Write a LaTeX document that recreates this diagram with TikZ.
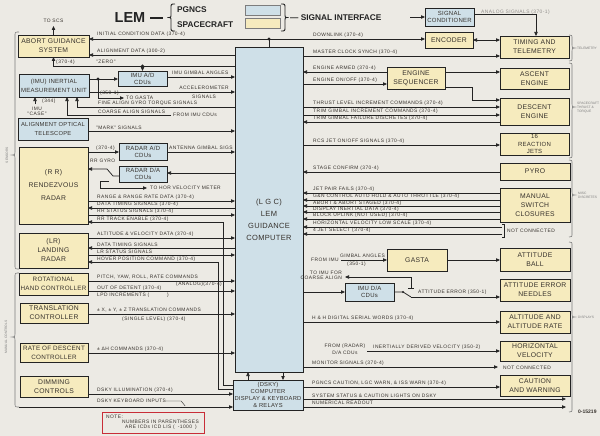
\documentclass[tikz,border=0pt]{standalone}
\usepackage{fontspec}
\setmainfont{Liberation Sans}
\newfontfamily\lblff[LetterSpace=9]{Liberation Sans}
\newfontfamily\bxff[LetterSpace=4]{Liberation Sans}
\usetikzlibrary{arrows.meta}
\definecolor{bg}{RGB}{236,234,228}
\definecolor{bfill}{RGB}{207,224,232}
\definecolor{yfill}{RGB}{246,235,190}
\definecolor{ln}{RGB}{35,35,35}
\definecolor{txt}{RGB}{55,50,45}
\definecolor{brc}{RGB}{125,125,125}
\definecolor{nred}{RGB}{200,45,55}
\newcommand\lblf{\lblff\fontsize{4.9}{5.5}\selectfont}
\newcommand\bxs[2]{\bxff\fontsize{#1}{#2}\selectfont}
\newcommand\mkbox[7]{\node[#1, minimum width={#5-#3}, minimum height={#6-#4}] (#2) at ({(#3+#5)/2},{(#4+#6)/2}) {#7};}
\newcommand\rbr[4]{\draw[brace] ({#1-3},{#2}) .. controls ({#1},{#2}) .. ({#1},{#2+4}) -- ({#1},{#3-3}) .. controls ({#1},{#3}) .. ({#1+3},{#3}) .. controls ({#1},{#3}) .. ({#1},{#3+3}) -- ({#1},{#4-4}) .. controls ({#1},{#4}) .. ({#1-3},{#4});}
\begin{document}
\begin{tikzpicture}[x=1pt,y=-1pt,
  box/.style={draw=ln, line width=0.7pt, inner sep=0pt, outer sep=0pt, align=center, font=\bxs{6.8}{9}, text=txt},
  bbox/.style={box, fill=bfill},
  ybox/.style={box, fill=yfill},
  wire/.style={draw=ln, line width=0.75pt},
  arr/.style={wire, -{Triangle[length=4pt,width=3.4pt]}},
  dbl/.style={wire, {Triangle[length=4pt,width=3.4pt]}-{Triangle[length=4pt,width=3.4pt]}},
  lab/.style={font=\lblf, text=txt, inner sep=0pt, anchor=west},
  side/.style={font=\fontsize{3.3}{3.9}\selectfont, text=brc, inner sep=0pt, anchor=west, align=left},
  brace/.style={draw=brc, line width=0.6pt},
  ttl/.style={font=\bfseries\fontsize{8.3}{9}\selectfont, text=ln, inner sep=0pt, anchor=west}]
\useasboundingbox (0,0) rectangle (600,436);
\fill[bg] (0,0) rectangle (600,436);
\clip (0,0) rectangle (600,436);

% ---------- title ----------
\node[font=\bfseries\fontsize{14.5}{15}\selectfont, text=ln, inner sep=0pt] (lem) at (130,17.5) {LEM};
\draw[ln, line width=1.3pt] (150,18) -- (163,18);
\draw[ln, line width=0.9pt] (175,4) .. controls (171,4) .. (171,8) -- (171,14) .. controls (171,17.5) .. (167.5,17.5) .. controls (171,17.5) .. (171,21) -- (171,27) .. controls (171,31) .. (175,31);
\node[ttl] (pg) at (177,10) {PGNCS};
\node[ttl] (scft) at (177,24.5) {SPACECRAFT};
\node[draw=brc, line width=0.4pt, fill=bfill, minimum width=35, minimum height=10, inner sep=0pt] (legb) at (262.5,10) {};
\node[draw=brc, line width=0.4pt, fill=yfill, minimum width=35, minimum height=10, inner sep=0pt] (legy) at (262.5,23) {};
\draw[ln, line width=0.9pt] (281,4) .. controls (285,4) .. (285,8) -- (285,14) .. controls (285,17.5) .. (288.5,17.5) .. controls (285,17.5) .. (285,21) -- (285,27) .. controls (285,31) .. (281,31);
\node[ttl] (si) at (290,17.5) {— SIGNAL INTERFACE};

% ---------- boxes ----------
\mkbox{bbox}{lgc}{235}{47}{303}{372}{}
\node[font=\bxs{7.5}{12}, text=txt, align=center, inner sep=0pt] (lgct) at (269,220) {(L G C)\\LEM\\GUIDANCE\\COMPUTER};
\mkbox{bbox, font=\bxs{5.8}{7}}{dsky}{233}{380}{303}{410}{(DSKY)\\COMPUTER\\DISPLAY \& KEYBOARD\\\& RELAYS}
\mkbox{ybox}{ags}{18}{35}{89}{57}{ABORT GUIDANCE\\SYSTEM}
\mkbox{bbox, font=\bxs{6}{7.5}}{sigcond}{425}{8}{474}{26}{SIGNAL\\CONDITIONER}
\mkbox{ybox}{enc}{425}{32}{473}{48}{ENCODER}
\mkbox{ybox}{tim}{500}{36}{569}{58}{TIMING AND\\TELEMETRY}
\mkbox{ybox}{asc}{500}{68}{569}{89}{ASCENT\\ENGINE}
\mkbox{ybox}{seq}{387}{67}{445}{89}{ENGINE\\SEQUENCER}
\mkbox{ybox}{des}{500}{98}{569}{125}{DESCENT\\ENGINE}
\mkbox{ybox, font=\bxs{6}{7.3}}{rcs}{500}{133}{569}{155}{16\\REACTION\\JETS}
\mkbox{ybox}{pyro}{500}{163}{570}{180}{PYRO}
\mkbox{ybox}{msc}{500}{188}{570}{222}{MANUAL\\SWITCH\\CLOSURES}
\mkbox{ybox}{gasta}{387}{249}{447}{271}{GASTA}
\mkbox{ybox}{ball}{500}{248}{570}{271}{ATTITUDE\\BALL}
\mkbox{ybox}{needle}{500}{279}{570}{301}{ATTITUDE ERROR\\NEEDLES}
\mkbox{ybox}{alt}{500}{311}{570}{333}{ALTITUDE AND\\ALTITUDE RATE}
\mkbox{ybox}{hvel}{500}{341}{570}{361}{HORIZONTAL\\VELOCITY}
\mkbox{ybox}{cw}{500}{375}{570}{396}{CAUTION\\AND WARNING}
\mkbox{bbox, font=\bxs{6}{9}}{imu}{19}{74}{89}{97}{(IMU) INERTIAL\\MEASUREMENT UNIT}
\mkbox{bbox, font=\bxs{6}{7}}{imuad}{118}{71}{167}{86}{IMU A/D\\CDUs}
\mkbox{bbox, font=\bxs{5.8}{9}}{aot}{18}{118}{88}{140}{ALIGNMENT OPTICAL\\TELESCOPE}
\mkbox{bbox, font=\bxs{6}{7}}{radad}{119}{143}{167}{160}{RADAR A/D\\CDUs}
\mkbox{bbox, font=\bxs{6}{7}}{radda}{119}{166}{167}{182}{RADAR D/A\\CDUs}
\mkbox{bbox, font=\bxs{6}{7}}{imuda}{345}{283}{394}{301}{IMU D/A\\CDUs}
\mkbox{ybox}{rr}{19}{147}{88}{224}{(R R)\\[4pt]RENDEZVOUS\\[4pt]RADAR}
\mkbox{ybox}{lr}{19}{233}{88}{268}{(LR)\\LANDING\\RADAR}
\mkbox{ybox, font=\bxs{6.3}{9}}{rhc}{19}{273}{88}{295}{ROTATIONAL\\HAND CONTROLLER}
\mkbox{ybox}{tc}{20}{303}{88}{323}{TRANSLATION\\CONTROLLER}
\mkbox{ybox, font=\bxs{6.3}{9}}{rodc}{20}{343}{88}{362}{RATE OF DESCENT\\CONTROLLER}
\mkbox{ybox}{dim}{20}{376}{88}{397}{DIMMING\\CONTROLS}

% ---------- top connectors ----------
\coordinate (dl) at (269,39);
\draw[wire] (lgc.north) -- (dl);
\draw[arr] (dl) -- (ags.east |- dl);
\draw[arr] (dl) -- (enc.west |- dl);
\fill[ln] (dl) circle (1.7pt);
\draw[dbl] (enc.east) -- (tim.west |- enc.east);
\coordinate (scin) at (410,17);
\draw[arr] (scin) -- (sigcond.west |- scin);
\draw[arr] (sigcond.east |- 0,14) -| (tim.north -| 536,0);
\draw[arr] (lgc.east |- 0,56) -- (tim.west |- 0,56);
\draw[arr] (lgc.west |- 0,55) -- (ags.east |- 0,55);
\draw[arr] (lgc.west |- 0,66) -| (ags.south);
\coordinate (zd) at (imuad.north |- 0,66);
\fill[ln] (zd) circle (1.7pt);
\draw[arr] (zd) -- (imuad.north);
\coordinate (scs) at (53.5,26);
\draw[arr] (ags.north) -- (scs);
\coordinate (imd) at (98,79);
\draw[arr] (imu.east |- imd) -- (imuad.west |- imd);
\fill[ln] (imd) circle (1.7pt);
\coordinate (tg) at (124,98);
\draw[arr] (imd) |- (tg);
\draw[arr] (imuad.east |- 0,77) -- (lgc.west |- 0,77);
\draw[arr] (imu.east |- 0,92) -- (lgc.west |- 0,92);
\draw[arr] (lgc.west |- 0,107) -| (imu.south -| 77,0);
\coordinate (ca) at (171,115);
\draw[arr] (ca) -| (imu.south -| 67,0);
\coordinate (case) at (35,104);
\draw[arr] (case) -- (imu.south -| case);
\draw[arr] (aot.east |- 0,131) -- (lgc.west |- 0,131);

% ---------- right connectors ----------
\draw[arr] (seq.west |- 0,72) -- (lgc.east |- 0,72);
\draw[arr] (lgc.east |- 0,84) -- (seq.west |- 0,84);
\draw[arr] (seq.east |- 0,72) -- (asc.west |- 0,72);
\draw[arr] (seq.east |- 0,87) -| (472,100) -- (des.west |- 0,100);
\draw[arr] (lgc.east |- 0,107) -- (des.west |- 0,107);
\draw[arr] (lgc.east |- 0,115) -- (des.west |- 0,115);
\draw[arr] (des.west |- 0,122) -- (lgc.east |- 0,122);
\draw[arr] (lgc.east |- 0,145) -- (rcs.west |- 0,145);
\draw[arr] (pyro.west |- 0,172) -- (lgc.east |- 0,172);
\foreach \yy in {193,200,206,212,219} {\draw[arr] (msc.west |- 0,\yy) -- (lgc.east |- 0,\yy);}
\coordinate (nca) at (502,227);
\coordinate (ncb) at (502,234);
\draw[arr] (nca) -- (lgc.east |- nca);
\draw[arr] (ncb) -- (lgc.east |- ncb);
\draw[wire, line width=0.5pt] (502,224) -- (504,224) -- (504,237) -- (502,237);
\coordinate (fimu) at (341,260);
\draw[arr] (fimu) -- (gasta.west |- fimu);
\draw[arr] (gasta.east |- 0,260) -- (ball.west |- 0,260);
\draw[arr] (lgc.east |- 0,292) -- (imuda.west |- 0,292);
\coordinate (swa) at (403,292);
\coordinate (swb) at (411,297);
\draw[wire] (imuda.east |- swa) -- (swa) -- (swb);
\fill[ln] (swa) circle (1.2pt);
\draw[arr] (swb) -- (needle.west |- swb);
\coordinate (swc) at (411,288);
\coordinate (tic) at (345,277);
\draw[arr] (swc) |- (tic);
\draw[wire, line width=0.5pt] (408,288) -- (414,288);
\draw[arr] (lgc.east |- 0,322) -- (alt.west |- 0,322);
\coordinate (frd) at (367,351);
\draw[arr] (frd) -- (hvel.west |- frd);
\coordinate (ncm) at (498,367);
\draw[arr] (lgc.east |- ncm) -- (ncm);
\draw[arr] (dsky.north -| 248,0) -- (lgc.south -| 248,0);
\draw[arr] (lgc.south -| 283,0) -- (dsky.north -| 283,0);
\draw[arr] (dsky.east |- 0,387) -- (cw.west |- 0,387);
\coordinate (ssd) at (566,399);
\draw[arr] (dsky.east |- ssd) -- (ssd);
\coordinate (nrd) at (566,407);
\draw[arr] (dsky.east |- nrd) -- (nrd);

% ---------- left radar/controls connectors ----------
\draw[arr] (rr.east |- 0,152) -- (radad.west |- 0,152);
\draw[arr] (radad.east |- 0,152) -- (lgc.west |- 0,152);
\draw[arr] (lgc.west |- 0,173) -- (radda.east |- 0,173);
\draw[arr] (radda.west |- 0,176) -- (113,176) -- (107,169) -- (rr.east |- 0,169);
\coordinate (sw2) at (109,181);
\coordinate (hvm) at (147,188);
\draw[arr] (sw2) -- (100,181) |- (hvm);
\draw[arr] (rr.east |- 0,201) -- (lgc.west |- 0,201);
\draw[arr] (lgc.west |- 0,208) -- (rr.east |- 0,208);
\draw[arr] (rr.east |- 0,215) -- (lgc.west |- 0,215);
\draw[arr] (dsky.west |- 0,385) -| (223,222) -- (rr.east |- 0,222);
\draw[arr] (lr.east |- 0,238) -- (lgc.west |- 0,238);
\draw[arr] (lgc.west |- 0,248) -- (lr.east |- 0,248);
\draw[arr] (lr.east |- 0,255) -- (lgc.west |- 0,255);
\draw[arr] (dsky.west |- 0,389) -| (218,262) -- (lr.east |- 0,262);
\draw[arr] (rhc.east |- 0,281) -- (lgc.west |- 0,281);
\draw[arr] (rhc.east |- 0,291) -- (lgc.west |- 0,291);
\draw[arr] (tc.east |- 0,314) -- (lgc.west |- 0,314);
\draw[arr] (rodc.east |- 0,353) -- (lgc.west |- 0,353);
\draw[arr] (dim.east |- 0,394) -- (dsky.west |- 0,394);

% ---------- braces ----------
\draw[brace] (19,32) .. controls (15,32) .. (15,36) -- (15,152) .. controls (15,155) .. (12,155) .. controls (15,155) .. (15,158) -- (15,265) .. controls (15,269) .. (19,269);
\draw[brace] (19,273) .. controls (15,273) .. (15,277) -- (15,334) .. controls (15,337) .. (12,337) .. controls (15,337) .. (15,340) -- (15,403) .. controls (15,407) .. (19,407);
\coordinate (kb) at (19,407);
\draw[arr] (kb) -- (dsky.west |- kb);
\rbr{572}{35}{48}{61}
\rbr{572}{63}{107}{158}
\rbr{572}{160}{195}{237}
\rbr{572}{242}{317}{412}

% ---------- labels ----------
\node[lab] (t1) at (97,34) {INITIAL CONDITION DATA (370-4)};
\node[lab] (t2) at (313,35) {DOWNLINK (370-4)};
\node[lab, text=txt!55] (t3) at (481,12.5) {ANALOG SIGNALS (370-1)};
\node[lab] (t4) at (313,52) {MASTER CLOCK SYNCH (370-4)};
\node[lab] (t5) at (97,51) {ALIGNMENT DATA (300-2)};
\node[lab] (t6) at (56,62) {(370-4)};
\node[lab] (t7) at (96,62) {"ZERO"};
\node[lab, anchor=center] (t8) at (53.5,21) {TO SCS};
\node[lab] (t9) at (100,93.5) {(350-1)};
\node[lab] (t10) at (126,98) {TO GASTA};
\node[lab] (t11) at (172,72.5) {IMU GIMBAL ANGLES};
\node[lab, anchor=center] (t12) at (204,88) {ACCELEROMETER};
\node[lab, anchor=center] (t13) at (204,97) {SIGNALS};
\node[lab] (t14) at (98,103.5) {FINE ALIGN GYRO TORQUE SIGNALS};
\node[lab] (t15) at (98,111.5) {COARSE ALIGN SIGNALS};
\node[lab] (t16) at (173,115) {FROM IMU CDUs};
\node[lab] (t17) at (42,101.5) {(344)};
\node[lab, anchor=center] (t18) at (37,108.5) {IMU};
\node[lab, anchor=center] (t19) at (37,113.5) {"CASE"};
\node[lab] (t20) at (96,127.5) {"MARK" SIGNALS};
\node[lab] (t21) at (313,68.5) {ENGINE ARMED (370-4)};
\node[lab] (t22) at (313,80.5) {ENGINE ON/OFF (370-4)};
\node[lab] (t23) at (313,103.5) {THRUST LEVEL INCREMENT COMMANDS (370-4)};
\node[lab] (t24) at (313,111.2) {TRIM GIMBAL INCREMENT COMMANDS (370-4)};
\node[lab] (t25) at (313,118.7) {TRIM GIMBAL FAILURE DISCRETES (370-4)};
\node[lab] (t26) at (313,141.5) {RCS JET ON/OFF SIGNALS (370-4)};
\node[lab] (t27) at (313,168.5) {STAGE CONFIRM (370-4)};
\node[lab] (t28) at (313,189.7) {JET PAIR FAILS (370-4)};
\node[lab] (t29) at (313,196.7) {G\&N CONTROL AUTO HOLD \& AUTO THROTTLE (370-4)};
\node[lab] (t30) at (313,202.8) {ABORT \& ABORT STAGED (370-4)};
\node[lab] (t31) at (313,208.8) {DISPLAY INERTIAL DATA (370-4)};
\node[lab] (t32) at (313,215.7) {BLOCK UPLINK (NOT USED) (370-4)};
\node[lab] (t33) at (313,223.6) {HORIZONTAL VELOCITY LOW SCALE (370-4)};
\node[lab] (t34) at (313,230.7) {4 JET SELECT (370-4)};
\node[lab] (t35) at (507,230.5) {NOT CONNECTED};
\node[lab] (t36) at (311,260) {FROM IMU};
\node[lab] (t37) at (340,255.5) {GIMBAL ANGLES};
\node[lab] (t38) at (347,264.5) {(350-1)};
\node[lab, anchor=east] (t39) at (342,272.5) {TO IMU FOR};
\node[lab, anchor=east] (t40) at (342,278) {COARSE ALIGN};
\node[lab] (t41) at (418,292.5) {ATTITUDE ERROR (350-1)};
\node[lab] (t42) at (312,318.5) {H \& H DIGITAL SERIAL WORDS (370-4)};
\node[lab, anchor=center] (t43) at (345,346.5) {FROM (RADAR)};
\node[lab, anchor=center] (t44) at (345,352.5) {D/A CDUs};
\node[lab] (t45) at (373,347) {INERTIALLY DERIVED VELOCITY (350-2)};
\node[lab] (t46) at (312,363.5) {MONITOR SIGNALS (370-4)};
\node[lab] (t47) at (503,367.5) {NOT CONNECTED};
\node[lab] (t48) at (312,383) {PGNCS CAUTION, LGC WARN, \& ISS WARN (370-4)};
\node[lab] (t49) at (312,395.5) {SYSTEM STATUS \& CAUTION LIGHTS ON DSKY};
\node[lab] (t50) at (312,403) {NUMERICAL READOUT};
\node[lab] (t51) at (96,148) {(370-4)};
\node[lab] (t52) at (169,148) {ANTENNA GIMBAL SIGS};
\node[lab] (t53) at (90,161) {RR GYRO};
\node[lab] (t54) at (150,188) {TO HOR VELOCITY METER};
\node[lab] (t55) at (97,197.5) {RANGE \& RANGE RATE DATA (370-4)};
\node[lab] (t56) at (97,204.5) {DATA TIMING SIGNALS (370-4)};
\node[lab] (t57) at (97,211.5) {RR STATUS SIGNALS (370-4)};
\node[lab] (t58) at (97,219) {RR TRACK ENABLE (370-4)};
\node[lab] (t59) at (97,234.5) {ALTITUDE \& VELOCITY DATA (370-4)};
\node[lab] (t60) at (97,244.5) {DATA TIMING SIGNALS};
\node[lab] (t61) at (97,251.8) {LR STATUS SIGNALS};
\node[lab] (t62) at (97,258.8) {HOVER POSITION COMMAND (370-4)};
\node[lab] (t63) at (97,277.5) {PITCH, YAW, ROLL, RATE COMMANDS};
\node[lab] (t64) at (176,284.5) {(ANALOG)(370-4)};
\node[lab] (t65) at (97,287.8) {OUT OF DETENT (370-4)};
\node[lab] (t66) at (97,295.5) {LPD INCREMENTS (\hspace{18pt})};
\node[lab] (t67) at (97,310.5) {± X, ± Y, ± Z TRANSLATION COMMANDS};
\node[lab] (t68) at (122,319) {(SINGLE LEVEL) (370-4)};
\node[lab] (t69) at (97,349.5) {± ΔH COMMANDS (370-4)};
\node[lab] (t70) at (97,390.5) {DSKY ILLUMINATION (370-4)};
\node[lab] (t71) at (97,401) {DSKY KEYBOARD INPUTS};
\draw[ln, line width=0.4pt] (t71.east) -- ++(15,0) -- ++(4,5);

% ---------- side labels ----------
\node[side] (s1) at (577,48) {TELEMETRY};
\node[side] (s2) at (577,108) {SPACECRAFT\\THRUST \&\\TORQUE};
\node[side] (s3) at (578,195.5) {MISC\\DISCRETES};
\node[side] (s4) at (578,317) {DISPLAYS};
\node[side, anchor=center, rotate=90] (s5) at (7,155) {SENSORS};
\node[side, anchor=center, rotate=90, align=center] (s6) at (6,337) {MANUAL CONTROLS};

% ---------- note ----------
\node[draw=nred, line width=0.9pt, minimum width=102, minimum height=21, inner sep=0pt] (note) at (153,422.5) {};
\node[lab] (n1) at (106,416.5) {NOTE:};
\node[lab] (n2) at (122,421.5) {NUMBERS IN PARENTHESES};
\node[lab] (n3) at (125,427.5) {ARE ICDs ICD LIS (\hspace{3pt}-1000\hspace{3pt})};
\node[font=\bfseries\fontsize{5}{5}\selectfont, text=txt, inner sep=0pt, anchor=west] (dwg) at (578,412) {0-15219};
\end{tikzpicture}
\end{document}
